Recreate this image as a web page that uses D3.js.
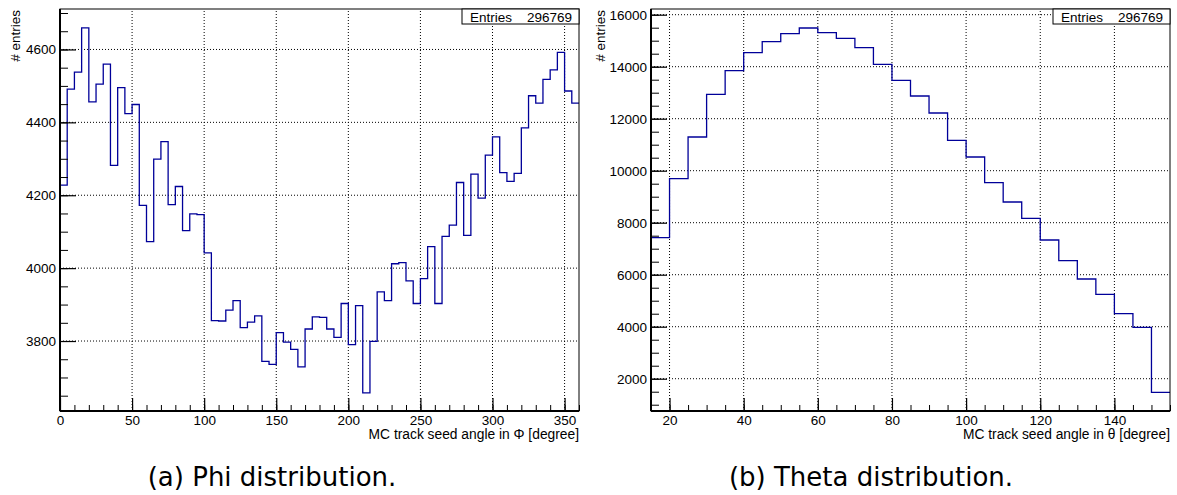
<!DOCTYPE html>
<html>
<head>
<meta charset="utf-8">
<script src="https://cdn.jsdelivr.net/npm/d3@7"></script>
<style>
   body{margin:0;background:#fff;}
   svg{display:block;}
   .tickLabel text{font-family:"Liberation Sans",Arial,sans-serif;font-size:13.5px;fill:#000;}
   .axisTitle{font-family:"Liberation Sans",Arial,sans-serif;font-size:13.8px;fill:#000;}
   .yTitle{font-family:"Liberation Sans",Arial,sans-serif;font-size:13.5px;fill:#000;}
   .statText{font-family:"Liberation Sans",Arial,sans-serif;font-size:13.5px;fill:#000;}
   .caption{font-family:"DejaVu Sans",sans-serif;font-size:26px;fill:#000;}
   .gridLine{stroke:#000;stroke-width:1;stroke-dasharray:1,2;}
   .histLine{fill:none;stroke:#000099;stroke-width:1.3;}
</style>
</head>
<body>
<svg id="chart" width="1177" height="495"></svg>
<script>
//Phi histogram: 72 bins of 5 degrees from 0 to 360
var phiBinStart = 0;
var phiBinWidth = 5;
var phiCounts = [4228, 4491, 4538, 4659, 4456, 4505, 4560, 4282, 4495, 4424,
                 4449, 4172, 4073, 4299, 4347, 4174, 4224, 4103, 4149, 4147,
                 4042, 3856, 3855, 3885, 3911, 3837, 3852, 3869, 3744, 3736,
                 3823, 3797, 3777, 3729, 3833, 3866, 3865, 3833, 3810, 3903,
                 3790, 3897, 3658, 3799, 3935, 3911, 4012, 4015, 3965, 3903,
                 3971, 4059, 3903, 4087, 4118, 4235, 4090, 4258, 4192, 4310,
                 4360, 4262, 4238, 4260, 4385, 4473, 4453, 4518, 4544, 4592,
                 4486, 4453];
var phiXTicks = [0, 50, 100, 150, 200, 250, 300, 350];
var phiYTicks = [3800, 4000, 4200, 4400, 4600];

//Theta histogram: 28 bins of 5 degrees from 15 to 155
var thetaBinStart = 15;
var thetaBinWidth = 5;
var thetaCounts = [7423, 9692, 11296, 12938, 13846, 14538, 14962, 15269, 15488, 15308,
                   15092, 14731, 14092, 13477, 12873, 12219, 11169, 10527, 9538, 8796,
                   8169, 7335, 6539, 5835, 5246, 4500, 3977, 1477];
var thetaXTicks = [20, 40, 60, 80, 100, 120, 140];
var thetaYTicks = [2000, 4000, 6000, 8000, 10000, 12000, 14000, 16000];

var entriesLabel = "Entries";
var entriesValue = "296769";
var captions = ["(a) Phi distribution.", "(b) Theta distribution."];

var svg = d3.select("#chart");

function makeHistPanel(opts){
   var panel = {};
   panel.x = d3.scaleLinear().domain(opts.xDomain).range([opts.left, opts.right]);
   panel.y = d3.scaleLinear().domain(opts.yDomain).range([opts.bottom, opts.top]);
   var g = svg.append("g");
   var x = panel.x, y = panel.y;

   //grid lines at major ticks
   g.selectAll("line.vgrid")
      .data(opts.xTicks)
      .enter()
      .append("line")
      .attr("class", "gridLine")
      .attr("x1", function(d){return x(d);})
      .attr("x2", function(d){return x(d);})
      .attr("y1", opts.bottom)
      .attr("y2", opts.top);
   g.selectAll("line.hgrid")
      .data(opts.yTicks)
      .enter()
      .append("line")
      .attr("class", "gridLine")
      .attr("x1", opts.left)
      .attr("x2", opts.right)
      .attr("y1", function(d){return y(d);})
      .attr("y2", function(d){return y(d);});

   //histogram outline, clipped to the frame
   var clipId = "clip" + opts.name;
   g.append("clipPath").attr("id", clipId)
      .append("rect")
      .attr("x", opts.left).attr("y", opts.top)
      .attr("width", opts.right - opts.left).attr("height", opts.bottom - opts.top);
   var pts = [];
   opts.counts.forEach(function(c, i){
      var lo = opts.binStart + i * opts.binWidth;
      pts.push([lo, c]);
      pts.push([lo + opts.binWidth, c]);
   });
   var line = d3.line()
      .x(function(d){return x(d[0]);})
      .y(function(d){return y(d[1]);});
   g.append("path")
      .attr("class", "histLine")
      .attr("clip-path", "url(#" + clipId + ")")
      .attr("d", line(pts));

   //frame
   g.append("rect")
      .attr("x", opts.left).attr("y", opts.top)
      .attr("width", opts.right - opts.left).attr("height", opts.bottom - opts.top)
      .attr("fill", "none").attr("stroke", "#000").attr("stroke-width", 1);

   //minor ticks
   g.append("g")
      .attr("transform", "translate(0," + opts.bottom + ")")
      .call(d3.axisBottom(x).tickValues(opts.xMinor).tickSize(-6).tickFormat(""))
      .call(function(a){a.select(".domain").remove(); a.selectAll("line").attr("stroke-width", 1);});
   g.append("g")
      .attr("transform", "translate(" + opts.left + ",0)")
      .call(d3.axisLeft(y).tickValues(opts.yMinor).tickSize(-8).tickFormat(""))
      .call(function(a){a.select(".domain").remove(); a.selectAll("line").attr("stroke-width", 1);});

   //major ticks and labels
   g.append("g")
      .attr("class", "tickLabel")
      .attr("transform", "translate(0," + opts.bottom + ")")
      .call(d3.axisBottom(x).tickValues(opts.xTicks).tickSize(-13).tickPadding(4).tickFormat(d3.format("d")))
      .call(function(a){
         a.select(".domain").remove();
         a.selectAll("line").attr("stroke-width", 1.2);
         a.selectAll("text").attr("font-family", null).attr("font-size", null);
      });
   g.append("g")
      .attr("class", "tickLabel")
      .attr("transform", "translate(" + opts.left + ",0)")
      .call(d3.axisLeft(y).tickValues(opts.yTicks).tickSize(-16).tickPadding(4).tickFormat(d3.format("d")))
      .call(function(a){
         a.select(".domain").remove();
         a.selectAll("line").attr("stroke-width", 1.2);
         a.selectAll("text").attr("font-family", null).attr("font-size", null);
      });

   //heavy axis lines
   g.append("line")
      .attr("x1", opts.left).attr("x2", opts.right)
      .attr("y1", opts.bottom).attr("y2", opts.bottom)
      .attr("stroke", "#000").attr("stroke-width", 2);
   g.append("line")
      .attr("x1", opts.left).attr("x2", opts.left)
      .attr("y1", opts.top).attr("y2", opts.bottom)
      .attr("stroke", "#000").attr("stroke-width", 2);

   //axis titles
   g.append("text")
      .attr("class", "axisTitle")
      .attr("text-anchor", "end")
      .attr("x", opts.right)
      .attr("y", opts.bottom + 28)
      .text(opts.xTitle);
   g.append("text")
      .attr("class", "yTitle")
      .attr("text-anchor", "end")
      .attr("transform", "translate(" + opts.yTitleX + "," + (opts.top + 1) + ") rotate(-90)")
      .text("# entries");

   //stats box
   var boxW = 117, boxH = 15;
   g.append("rect")
      .attr("x", opts.right - boxW).attr("y", opts.top)
      .attr("width", boxW).attr("height", boxH)
      .attr("fill", "#fff").attr("stroke", "#000").attr("stroke-width", 1);
   g.append("text")
      .attr("class", "statText")
      .attr("x", opts.right - boxW + 8)
      .attr("y", opts.top + 12.5)
      .text(entriesLabel);
   g.append("text")
      .attr("class", "statText")
      .attr("text-anchor", "end")
      .attr("x", opts.right - 7)
      .attr("y", opts.top + 12.5)
      .text(entriesValue);

   //caption
   svg.append("text")
      .attr("class", "caption")
      .attr("text-anchor", "middle")
      .attr("x", opts.captionX)
      .attr("y", 486)
      .text(opts.caption);

   return panel;
}

makeHistPanel({
   name: "phi",
   left: 60, right: 579, top: 9, bottom: 411,
   xDomain: [0, 360], yDomain: [3608, 4711],
   counts: phiCounts, binStart: phiBinStart, binWidth: phiBinWidth,
   xTicks: phiXTicks, yTicks: phiYTicks,
   xMinor: d3.range(0, 361, 10), yMinor: d3.range(3650, 4711, 50),
   xTitle: "MC track seed angle in \u03A6 [degree]",
   yTitleX: 20,
   caption: captions[0], captionX: 272
});

makeHistPanel({
   name: "theta",
   left: 651, right: 1170, top: 9, bottom: 411,
   xDomain: [15, 155], yDomain: [758, 16219],
   counts: thetaCounts, binStart: thetaBinStart, binWidth: thetaBinWidth,
   xTicks: thetaXTicks, yTicks: thetaYTicks,
   xMinor: d3.range(15, 156, 5), yMinor: d3.range(1000, 16219, 500),
   xTitle: "MC track seed angle in \u03B8 [degree]",
   yTitleX: 605,
   caption: captions[1], captionX: 871
});
</script>
</body>
</html>
